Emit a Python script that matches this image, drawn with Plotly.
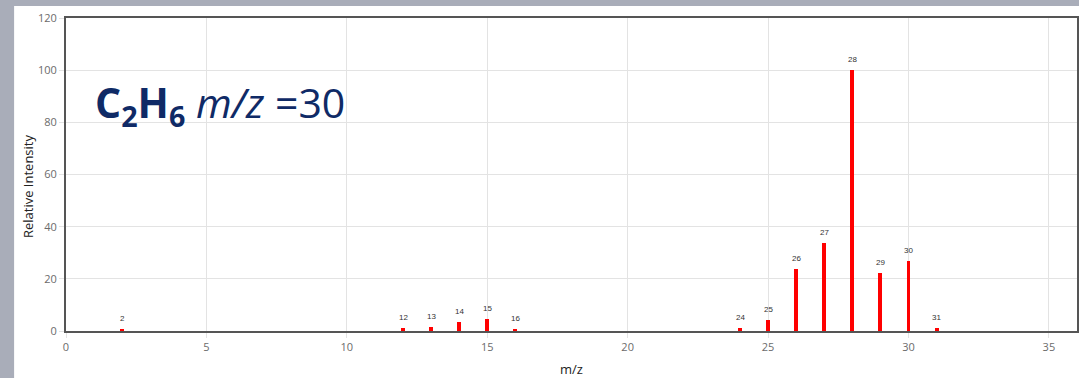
import plotly.graph_objects as go

# Electron-ionisation mass spectrum of ethane (C2H6)
mz = [2, 12, 13, 14, 15, 16, 24, 25, 26, 27, 28, 29, 30, 31]
intensity = [0.8, 1.0, 1.5, 3.5, 4.7, 0.6, 1.0, 4.1, 23.8, 33.8, 100, 22.2, 26.9, 1.0]
labels = [str(m) for m in mz]

x_ticks = [0, 5, 10, 15, 20, 25, 30, 35]
y_ticks = [0, 20, 40, 60, 80, 100, 120]

W, H = 1079, 378
ML, MR, MT, MB = 66, 0, 18, 47
pw, ph = W - ML - MR, H - MT - MB

fig = go.Figure()
fig.add_trace(go.Bar(
    x=mz, y=intensity, width=0.14,
    marker=dict(color="#ff0000", line=dict(width=0)),
    hoverinfo="x+y",
))

# peak labels sitting a few pixels above each bar
for m, v, lab in zip(mz, intensity, labels):
    fig.add_annotation(
        x=m, y=v, xref="x", yref="y", text=lab, showarrow=False,
        xanchor="center", yanchor="bottom", yshift=4,
        font=dict(family="Liberation Sans, Arial", size=8, color="#333333"),
    )

# white card on the grey slide background
fig.add_shape(type="rect", xref="paper", yref="paper",
              x0=(14 - ML) / pw, x1=1.05, y0=-MB / ph - 0.05, y1=1 + (MT - 6) / ph,
              fillcolor="white", line=dict(width=0), layer="below")

fig.add_annotation(
    xref="paper", yref="paper", x=(93 - ML) / pw, y=(331 - 104) / ph,
    xanchor="left", yanchor="middle", showarrow=False,
    text="<b>C<sub>2</sub>H<sub>6</sub></b> <i>m/z</i> =30",
    font=dict(family="Open Sans, Lato", size=41, color="#0f2a66"),
)

# y-axis title
fig.add_annotation(
    xref="paper", yref="paper", x=(28 - ML) / pw, y=(331 - 186) / ph,
    xanchor="center", yanchor="middle", showarrow=False, textangle=-90,
    text="Relative Intensity",
    font=dict(family="Open Sans, Noto Sans", size=13, color="#222222"),
)

axis_common = dict(
    showline=True, linecolor="#555555", linewidth=2, mirror=True,
    showgrid=True, gridcolor="#e3e3e3", gridwidth=1,
    ticks="outside", ticklen=5, tickcolor="#e3e3e3",
    tickfont=dict(family="Open Sans, Noto Sans", size=11, color="#6b6b6b"),
    zeroline=False,
)

fig.update_xaxes(range=[0, 36], tickvals=x_ticks, **axis_common,
                 title=dict(text="m/z", standoff=12,
                            font=dict(family="Open Sans, Noto Sans", size=13, color="#222222")))
fig.update_yaxes(range=[0, 120], tickvals=y_ticks, **axis_common)

fig.update_layout(
    width=W, height=H,
    margin=dict(l=ML, r=MR, t=MT, b=MB, pad=0),
    paper_bgcolor="#a9adb9", plot_bgcolor="white",
    showlegend=False, bargap=0,
)

fig.write_html("out.html")
